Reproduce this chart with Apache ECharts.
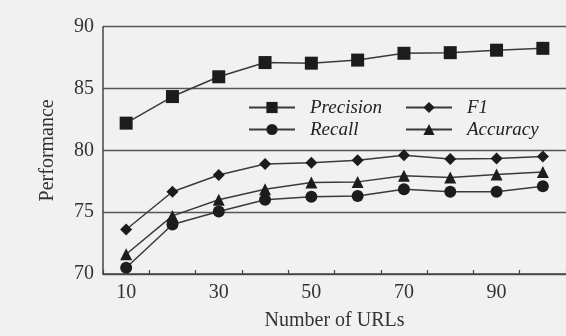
<!DOCTYPE html>
<html>
<head>
<meta charset="utf-8">
<script src="https://cdn.jsdelivr.net/npm/echarts@6/dist/echarts.min.js"></script>
<style>
html,body{margin:0;padding:0;background:#f1f1f1;}
#c{width:566px;height:336px;}
</style>
</head>
<body>
<div id="c"></div>
<script>
var categories = ['10','20','30','40','50','60','70','80','90','100'];
var precision = [82.2, 84.35, 85.95, 87.1, 87.05, 87.3, 87.85, 87.9, 88.1, 88.25];
var recall    = [70.5, 74.0, 75.05, 76.0, 76.25, 76.3, 76.85, 76.65, 76.65, 77.1];
var f1        = [73.6, 76.65, 78.0, 78.9, 79.0, 79.2, 79.6, 79.3, 79.35, 79.5];
var accuracy  = [71.6, 74.7, 76.0, 76.85, 77.4, 77.45, 77.95, 77.8, 78.05, 78.25];
var yTicks = [70, 75, 80, 85, 90];

var ink = '#1c1c1c';
var lineCol = '#3a3a3a';
var serif = '"Liberation Serif", "Times New Roman", serif';

function mk(name, data, symbol, size) {
  return {
    name: name, type: 'line', data: data, symbol: symbol, symbolSize: size,
    showAllSymbol: true,
    lineStyle: {color: lineCol, width: 1.5},
    itemStyle: {color: ink, borderWidth: 0},
    emphasis: {disabled: true},
    animation: false
  };
}

var chart = echarts.init(document.getElementById('c'), null, {renderer: 'canvas'});
chart.setOption({
  backgroundColor: '#f1f1f1',
  animation: false,
  grid: {left: 103, right: 0, top: 26.7, bottom: 61.7},
  legend: [
    {
      data: ['Precision', 'Recall'], orient: 'vertical', left: 243, top: 93,
      itemWidth: 46, itemHeight: 14, itemGap: 3,
      textStyle: {fontFamily: serif, fontStyle: 'italic', fontSize: 19, color: '#222', lineHeight: 19, padding: [0,0,0,10]},
      selectedMode: false
    },
    {
      data: ['F1', 'Accuracy'], orient: 'vertical', left: 400, top: 93,
      itemWidth: 46, itemHeight: 14, itemGap: 3,
      textStyle: {fontFamily: serif, fontStyle: 'italic', fontSize: 19, color: '#222', lineHeight: 19, padding: [0,0,0,10]},
      selectedMode: false
    }
  ],
  xAxis: {
    type: 'category', data: categories, boundaryGap: true,
    name: 'Number of URLs', nameLocation: 'middle', nameGap: 37,
    nameTextStyle: {fontFamily: serif, fontSize: 20, color: '#333'},
    axisLine: {lineStyle: {color: '#444', width: 1.5}},
    axisTick: {show: true, inside: true, length: 4, lineStyle: {color: '#444', width: 1.2}, interval: 0},
    axisLabel: {interval: 1, fontFamily: serif, fontSize: 20, color: '#333', margin: 9},
    splitLine: {show: false}
  },
  yAxis: {
    type: 'value', min: yTicks[0], max: yTicks[yTicks.length-1], interval: 5,
    name: 'Performance', nameLocation: 'middle', nameGap: 45, nameRotate: 90,
    nameTextStyle: {fontFamily: serif, fontSize: 20, color: '#333'},
    axisLine: {show: true, lineStyle: {color: '#444', width: 1.5}},
    axisTick: {show: false},
    axisLabel: {fontFamily: serif, fontSize: 20, color: '#333', margin: 9},
    splitLine: {show: true, lineStyle: {color: '#555', width: 1.4}}
  },
  series: [
    mk('Precision', precision, 'rect', 13),
    mk('Recall', recall, 'circle', 12),
    mk('F1', f1, 'diamond', 12),
    mk('Accuracy', accuracy, 'triangle', 12)
  ]
});
</script>
</body>
</html>
